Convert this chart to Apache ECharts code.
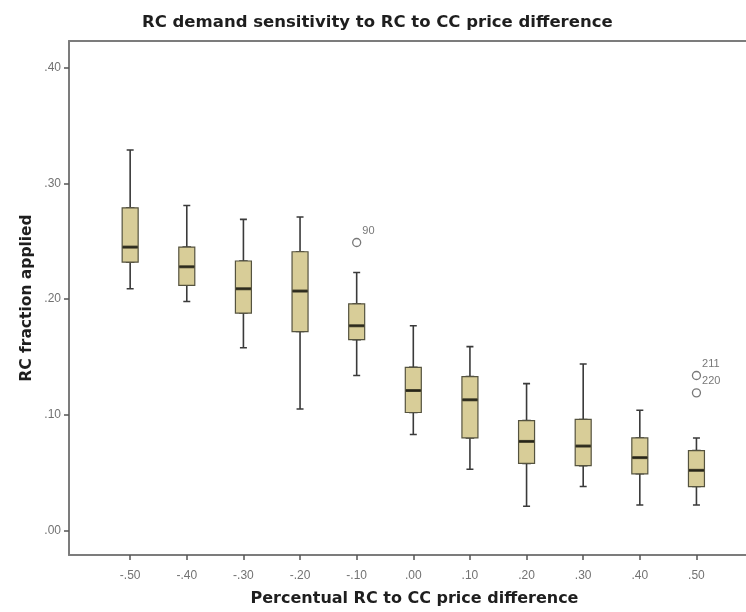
<!DOCTYPE html>
<html>
<head>
<meta charset="utf-8">
<script src="https://cdn.jsdelivr.net/npm/echarts@6/dist/echarts.min.js"></script>
<style>html,body{margin:0;padding:0;background:#fff;}#c{width:746px;height:612px;}</style>
</head>
<body>
<div id="c"></div>
<script>
// ---- data ----
var priceDiff = [-0.5, -0.4, -0.3, -0.2, -0.1, 0.0, 0.1, 0.2, 0.3, 0.4, 0.5];
var whiskerLow = [0.209, 0.198, 0.158, 0.105, 0.134, 0.083, 0.053, 0.021, 0.038, 0.022, 0.022];
var q1         = [0.232, 0.212, 0.188, 0.172, 0.165, 0.102, 0.080, 0.058, 0.056, 0.049, 0.038];
var median     = [0.245, 0.228, 0.209, 0.207, 0.177, 0.121, 0.113, 0.077, 0.073, 0.063, 0.052];
var q3         = [0.279, 0.245, 0.233, 0.241, 0.196, 0.141, 0.133, 0.095, 0.096, 0.080, 0.069];
var whiskerHigh= [0.329, 0.281, 0.269, 0.271, 0.223, 0.177, 0.159, 0.127, 0.144, 0.104, 0.080];
var outlierX   = [-0.1, 0.5, 0.5];
var outlierY   = [0.249, 0.134, 0.119];
var outlierId  = ['90', '211', '220'];
var xTicks = [-0.5, -0.4, -0.3, -0.2, -0.1, 0.0, 0.1, 0.2, 0.3, 0.4, 0.5];
var yTicks = [0.0, 0.1, 0.2, 0.3, 0.4];

// ---- build ----
function fmt(v) {
  var s = (Math.abs(v) < 1e-9 ? 0 : v).toFixed(2);
  return s.replace('0.', '.');
}
var whiskerData = priceDiff.map(function (x, i) {
  return [x, whiskerLow[i], q1[i], median[i], q3[i], whiskerHigh[i]];
});
var boxData = priceDiff.map(function (x, i) {
  return [x, q1[i], q1[i], median[i], q3[i], q3[i]];
});
var medianData = priceDiff.map(function (x, i) { return [x, median[i]]; });
var outlierData = outlierX.map(function (x, i) { return { value: [x, outlierY[i]], name: outlierId[i] }; });

var axisGray = '#7c7c7c';
var labelGray = '#727272';
var titleFont = 'DejaVu Sans, Verdana, sans-serif';
var tickFont = 'Liberation Sans, Arial, sans-serif';
var xMin = -0.608, xMax = 0.5875, yMin = -0.0212, yMax = 0.4232;

var chart = echarts.init(document.getElementById('c'), null, { renderer: 'canvas' });
chart.setOption({
  animation: false,
  backgroundColor: '#fff',
  title: {
    text: 'RC demand sensitivity to RC to CC price difference',
    left: 137, top: 9,
    textStyle: { fontFamily: titleFont, fontSize: 16.5, fontWeight: 'bold', color: '#1e1e1e' }
  },
  grid: { left: 69, top: 41, right: 0, bottom: 53, containLabel: false },
  xAxis: [
    {
      type: 'value', min: xMin, max: xMax, position: 'bottom',
      name: 'Percentual RC to CC price difference', nameLocation: 'middle', nameGap: 36,
      nameTextStyle: { fontFamily: titleFont, fontSize: 16, fontWeight: 'bold', color: '#1e1e1e', padding: [0, 0, 0, 14] },
      splitLine: { show: false },
      axisLine: { show: true, onZero: false, lineStyle: { color: axisGray, width: 2 } },
      axisTick: { show: true, length: 5, customValues: xTicks, lineStyle: { color: '#555', width: 1.5 } },
      axisLabel: { show: true, customValues: xTicks, formatter: fmt, margin: 15, color: labelGray, fontSize: 12, fontFamily: tickFont }
    },
    {
      type: 'value', min: xMin, max: xMax, position: 'top',
      splitLine: { show: false },
      axisLine: { show: true, onZero: false, lineStyle: { color: axisGray, width: 2 } },
      axisTick: { show: false }, axisLabel: { show: false }
    },
    {
      type: 'value', min: xMin, max: xMax, position: 'bottom', show: false,
      splitLine: { show: false }
    }
  ],
  yAxis: {
    type: 'value', min: yMin, max: yMax,
    name: 'RC fraction applied', nameLocation: 'middle', nameGap: 34, nameRotate: 90,
    nameMoveOverlap: false,
    nameTextStyle: { fontFamily: titleFont, fontSize: 15.5, fontWeight: 'bold', color: '#1e1e1e' },
    splitLine: { show: false },
    axisLine: { show: true, onZero: false, lineStyle: { color: axisGray, width: 2 } },
    axisTick: { show: true, length: 5, customValues: yTicks, lineStyle: { color: '#555', width: 1.5 } },
    axisLabel: { show: true, customValues: yTicks, formatter: fmt, margin: 8, color: labelGray, fontSize: 12, fontFamily: tickFont }
  },
  series: [
    {
      type: 'boxplot', xAxisIndex: 0, data: whiskerData, boxWidth: [7, 7],
      itemStyle: { color: 'rgba(0,0,0,0)', borderColor: '#3a3a3a', borderWidth: 1.6 },
      z: 2
    },
    {
      type: 'boxplot', xAxisIndex: 2, data: boxData, boxWidth: [16, 16],
      itemStyle: { color: '#d8cd98', borderColor: '#55533f', borderWidth: 1.2 },
      z: 3
    },
    {
      type: 'scatter', xAxisIndex: 0, data: medianData, symbol: 'rect', symbolSize: [15, 3],
      itemStyle: { color: '#1c1a10' }, z: 4
    },
    {
      type: 'scatter', xAxisIndex: 0, data: outlierData, symbol: 'circle', symbolSize: 8,
      itemStyle: { color: '#fff', borderColor: '#555', borderWidth: 1.3 },
      label: { show: true, position: 'right', distance: 1, offset: [0, -12], formatter: '{b}', color: '#555', fontSize: 11, fontFamily: tickFont },
      z: 4
    }
  ]
});
</script>
</body>
</html>
